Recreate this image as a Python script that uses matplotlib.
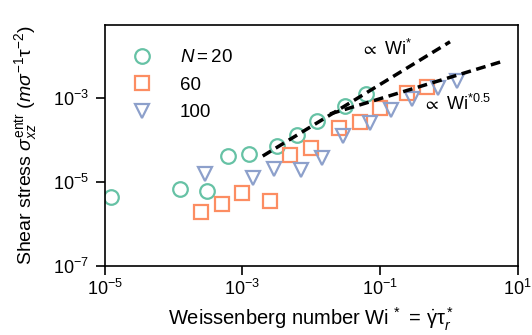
import numpy as np
import matplotlib
matplotlib.use("Agg")
import matplotlib.pyplot as plt

plt.rcParams['font.family'] = ['Liberation Sans', 'DejaVu Sans']
plt.rcParams['mathtext.fontset'] = 'custom'
plt.rcParams['mathtext.rm'] = 'Liberation Sans'
plt.rcParams['mathtext.it'] = 'Liberation Sans:italic'
plt.rcParams['mathtext.bf'] = 'Liberation Sans:bold'
plt.rcParams['mathtext.fallback'] = 'stixsans'

# log10 values
wi_20 = [-4.908, -3.906, -3.508, -3.203, -2.908, -2.501, -2.211, -1.910, -1.508, -1.208]
s_20 = [-5.357, -5.175, -5.222, -4.389, -4.341, -4.143, -3.881, -3.548, -3.198, -2.921]

wi_60 = [-3.600, -3.300, -3.000, -2.598, -2.303, -2.002, -1.600, -1.291, -1.000, -0.613, -0.312]
s_60 = [-5.722, -5.524, -5.262, -5.468, -4.357, -4.198, -3.730, -3.587, -3.246, -2.897, -2.738]

wi_100 = [-3.542, -2.840, -2.545, -2.148, -1.843, -1.542, -1.145, -0.840, -0.540, -0.162, 0.114]
s_100 = [-4.817, -4.921, -4.706, -4.722, -4.444, -3.913, -3.595, -3.294, -3.040, -2.778, -2.595]

labels = ["$N=20$", "60", "100"]
colors = ["#66c2a5", "#fc8d62", "#8da0cb"]
markers = ["o", "s", "v"]

# guide lines (log10 range of x, prefactor, exponent)
fit1_x = [-2.705, 0.017]
fit1_pref = -1.684
fit1_exp = 1.0
fit2_x = [-1.726, 0.792]
fit2_pref = -2.523
fit2_exp = 0.5

fig = plt.figure(figsize=(5.32, 3.35), dpi=100)
ax = fig.add_axes([0.197, 0.207, 0.776, 0.718])

for wx, sy, lab, c, m in zip([wi_20, wi_60, wi_100], [s_20, s_60, s_100], labels, colors, markers):
    ax.plot(10 ** np.array(wx), 10 ** np.array(sy), linestyle="none", marker=m,
            markersize=10.5, markerfacecolor="none",
            markeredgecolor=c, markeredgewidth=1.6, label=lab)

for xr, pref, ex in [(fit1_x, fit1_pref, fit1_exp), (fit2_x, fit2_pref, fit2_exp)]:
    xs = np.array(xr)
    ax.plot(10 ** xs, 10 ** (pref + ex * xs), color="k", linestyle=(0, (2.8, 1.6)), lw=2.5)

ax.set_xscale("log")
ax.set_yscale("log")
ax.set_xlim(1e-5, 1e1)
ax.set_ylim(1e-7, 10 ** -1.27)
ax.set_xticks([1e-5, 1e-3, 1e-1, 1e1])
ax.set_yticks([1e-7, 1e-5, 1e-3])
ax.minorticks_off()
ax.tick_params(direction="out", length=6.5, width=1.2, labelsize=13)
ax.tick_params(axis="x", pad=3)
ax.tick_params(axis="y", pad=5)
for s in ax.spines.values():
    s.set_linewidth(1.2)

ax.text(10 ** -1.276, 10 ** -1.983, r"$\propto$ Wi$^{*}$", fontsize=13, va="baseline")
ax.text(10 ** -0.376, 10 ** -3.293, r"$\propto$ Wi$^{*0.5}$", fontsize=13, va="baseline")

ax.set_xlabel(r"Weissenberg number Wi$\,^*\,=\,\dot{\mathrm{\gamma}}\mathrm{\tau}_r^*$", fontsize=14.5, labelpad=5)
ax.set_ylabel(r"Shear stress $\sigma_{xz}^{\rm entr}$ $(m\sigma^{-1}\mathrm{\tau}^{-2})$", fontsize=14, labelpad=10)

ax.legend(loc="upper left", frameon=False, fontsize=13.5, handletextpad=1.0,
          labelspacing=0.55, bbox_to_anchor=(0.005, 0.97))

fig.savefig("out.png", dpi=100)
